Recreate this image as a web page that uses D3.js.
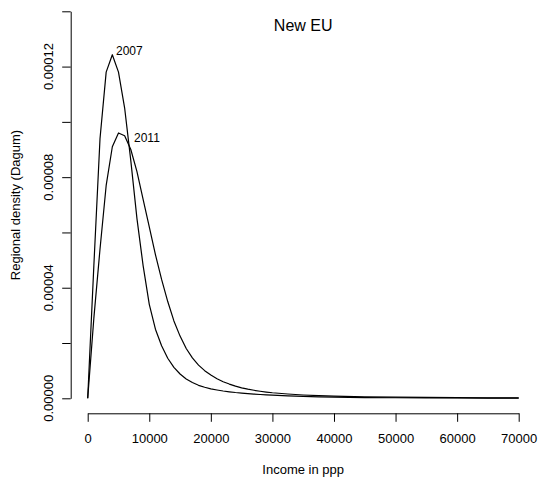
<!DOCTYPE html>
<html>
<head>
<meta charset="utf-8">
<script src="https://cdn.jsdelivr.net/npm/d3@7"></script>
<style>
  html, body { margin: 0; padding: 0; background: #fff; }
  svg { display: block; }
  text { font-family: "Liberation Sans", Arial, Helvetica, sans-serif; fill: #000; }
</style>
</head>
<body>
<svg id="chart" width="540" height="483"></svg>
<script>
// ---- data ----
const chartTitle = "New EU";
const xLabel = "Income in ppp";
const yLabel = "Regional density (Dagum)";
const incomes = [0,1000,2000,3000,4000,5000,6000,7000,8000,9000,10000,11000,12000,13000,14000,15000,16000,17000,18000,19000,20000,21000,22000,23000,24000,25000,26000,27000,28000,29000,30000,32500,35000,37500,40000,45000,50000,55000,60000,65000,70000];
const density2007 = [0,4.8e-5,9.4e-5,11.8e-5,12.43e-5,11.8e-5,10.5e-5,8.6e-5,6.5e-5,4.8e-5,3.4e-5,2.5e-5,1.9e-5,1.45e-5,1.12e-5,0.88e-5,0.70e-5,0.57e-5,0.47e-5,0.4e-5,0.34e-5,0.30e-5,0.265e-5,0.235e-5,0.21e-5,0.19e-5,0.17e-5,0.153e-5,0.138e-5,0.124e-5,0.112e-5,0.087e-5,0.068e-5,0.054e-5,0.043e-5,0.028e-5,0.019e-5,0.014e-5,0.010e-5,0.008e-5,0.006e-5];
const density2011 = [0,2.9e-5,5.4e-5,7.7e-5,9.1e-5,9.6e-5,9.5e-5,9.0e-5,8.2e-5,7.2e-5,6.2e-5,5.2e-5,4.3e-5,3.5e-5,2.8e-5,2.25e-5,1.8e-5,1.46e-5,1.2e-5,1.0e-5,0.84e-5,0.71e-5,0.60e-5,0.515e-5,0.44e-5,0.38e-5,0.33e-5,0.29e-5,0.255e-5,0.225e-5,0.2e-5,0.155e-5,0.12e-5,0.095e-5,0.078e-5,0.055e-5,0.04e-5,0.03e-5,0.022e-5,0.017e-5,0.013e-5];
const seriesNames = ["2007", "2011"];
const labelX = [4600, 7520];
const labelY = [12.56e-5, 9.42e-5];
const xTicks = [0,10000,20000,30000,40000,50000,60000,70000];
const yTicks = [0,2e-5,4e-5,6e-5,8e-5,10e-5,12e-5,14e-5];
const yTickLabels = [0,4e-5,8e-5,12e-5];

// ---- layout ----
const svg = d3.select("#chart");
const x = d3.scaleLinear().domain([0, 70000]).range([87.7, 518.7]);
const y = d3.scaleLinear().domain([0, 14e-5]).range([398.3, 11.3]);
const xAxisY = 413.3;
const yAxisX = 70.7;
const tick = 8.5;

// x axis
const gx = svg.append("g").attr("transform", `translate(0,${xAxisY})`)
  .call(d3.axisBottom(x).tickValues(xTicks).tickFormat(d3.format("d"))
    .tickSize(tick).tickSizeOuter(0).tickPadding(12));
gx.selectAll("text").attr("font-size", 13).attr("font-family", null);
gx.selectAll("path,line").attr("stroke", "#000").attr("stroke-width", 1);

// y axis
const gy = svg.append("g").attr("transform", `translate(${yAxisX},0)`)
  .call(d3.axisLeft(y).tickValues(yTicks).tickFormat("")
    .tickSize(tick).tickSizeOuter(0));
gy.selectAll("path,line").attr("stroke", "#000").attr("stroke-width", 1);
svg.append("g").selectAll("text").data(yTickLabels).join("text")
  .attr("transform", d => `translate(53.3,${y(d)}) rotate(-90)`)
  .attr("text-anchor", "middle")
  .attr("font-size", 13)
  .text(d => d3.format(".5f")(d));

// lines
const line = d3.line().x((d, i) => x(incomes[i])).y(d => y(d));
[density2007, density2011].forEach(s => {
  svg.append("path").datum(s)
    .attr("d", line)
    .attr("fill", "none")
    .attr("stroke", "#000")
    .attr("stroke-width", 1.2)
    .attr("stroke-linejoin", "round");
});

// series labels
svg.append("g").selectAll("text").data(seriesNames).join("text")
  .attr("x", (d, i) => x(labelX[i]))
  .attr("y", (d, i) => y(labelY[i]))
  .attr("dy", "0.35em")
  .attr("font-size", 12)
  .text(d => d);

// titles
svg.append("text").attr("x", 303.2).attr("y", 30.7)
  .attr("text-anchor", "middle").attr("font-size", 16).text(chartTitle);
svg.append("text").attr("x", 303.2).attr("y", 474)
  .attr("text-anchor", "middle").attr("font-size", 13).text(xLabel);
svg.append("text").attr("transform", "translate(19.5,205) rotate(-90)")
  .attr("text-anchor", "middle").attr("font-size", 13).text(yLabel);
</script>
</body>
</html>
